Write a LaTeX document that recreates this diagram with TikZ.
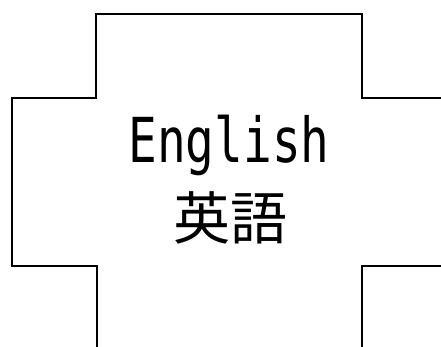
\documentclass[tikz,border=0pt]{standalone}
\usepackage{fontspec}
\newfontfamily\latinmono[FakeStretch=0.77]{DejaVu Sans Mono}
\newfontfamily\cjk{Noto Sans CJK JP}
\begin{document}
\begin{tikzpicture}[x=1pt,y=-1pt,
  outline/.style={line width=1.6pt, line join=miter},
  label/.style={inner sep=0pt, anchor=base}]
\useasboundingbox (0,0) rectangle (441,347);
\fill[white] (0,0) rectangle (441,347);
\clip (0,0) rectangle (441,347);
\draw[outline] (450,98) -- (362,98) -- (362,14) -- (96,14) -- (96,98) -- (12,98) -- (12,266) -- (97,266) -- (97,360);
\draw[outline] (450,266) -- (362,266) -- (362,360);
\node[label, font=\latinmono\fontsize{62}{70}\selectfont] (en) at (229,163) {English};
\node[label, font=\cjk\fontsize{57}{64}\selectfont] (ja) at (230,239) {英語};
\end{tikzpicture}
\end{document}
